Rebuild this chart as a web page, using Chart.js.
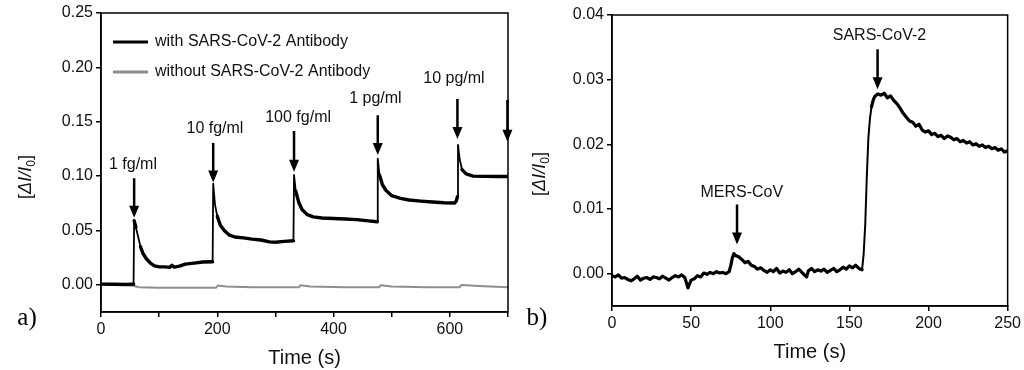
<!DOCTYPE html>
<html>
<head>
<meta charset="utf-8">
<script src="https://cdn.jsdelivr.net/npm/chart.js@4.4.1/dist/chart.umd.min.js"></script>
<style>
  body { margin:0; background:#fff; width:1024px; height:370px; overflow:hidden; position:relative; }
  .panel { position:absolute; top:0; height:370px; }
  #pa { left:0; width:520px; }
  #pb { left:520px; width:504px; }
</style>
</head>
<body>
<div class="panel" id="pa"><canvas id="chartA"></canvas></div>
<div class="panel" id="pb"><canvas id="chartB"></canvas></div>
<script>
// —––– Panel a) : respuesta con / sin anticuerpo ––––
const timeA   = [0,20,40,56,57,60,64,68,72,78,85,92,100,110,118,122,126,135,145,160,175,192,
                 193,196,200,205,212,220,230,245,260,275,290,300,315,331,
                 332,335,340,346,355,365,380,400,420,440,460,475,
                 476,479,484,490,500,515,530,550,570,590,608,611,613,
                 614,617,621,628,640,660,680,700];
const withAb  = [0.0006,0.0005,0.0004,0.0006,0.059,0.053,0.044,0.035,0.029,0.024,0.020,0.0175,0.0165,0.0165,0.016,0.018,0.0162,0.0172,0.019,0.020,0.021,0.0212,
                 0.093,0.074,0.063,0.055,0.050,0.046,0.044,0.0432,0.042,0.0412,0.0395,0.0392,0.040,0.0405,
                 0.101,0.086,0.076,0.069,0.0645,0.0625,0.0615,0.061,0.0605,0.060,0.0588,0.058,
                 0.116,0.101,0.092,0.087,0.082,0.0795,0.078,0.077,0.0762,0.0755,0.0752,0.077,0.081,
                 0.1287,0.115,0.106,0.102,0.100,0.0997,0.0996,0.0996];
const timeGray  = [0,30,55,65,100,150,198,201,215,260,340,343,360,420,478,481,500,560,617,620,650,700];
const withoutAb = [0.0002,-0.0003,-0.0008,-0.0022,-0.0028,-0.0028,-0.0027,-0.0006,-0.0015,-0.0022,-0.0023,-0.0004,-0.0015,-0.0022,-0.0022,-0.0005,-0.0015,-0.0022,-0.0022,-0.0001,-0.0010,-0.0022];
const xTicksA = [0,200,400,600];

// —––– Panel b) : selectividad ––––
const timeB = [0,2,4,6,8,10,12,14,16,18,20,22,24,26,28,30,32,34,36,38,40,42,44,46,48,49,50,52,54,56,58,60,62,64,66,68,70,72,74,
               75,76,77,78,80,82,84,86,88,90,92,94,96,98,100,102,104,106,108,110,112,114,116,118,120,122,123,124,126,128,130,
               132,134,136,138,140,142,144,146,148,150,152,154,156,158,159,160,161,162,163,164,165,166,168,170,172,174,176,178,
               180,182,184,186,188,190,192,194,196,198,200,202,204,206,208,210,212,214,216,218,220,222,224,226,228,230,232,234,
               236,238,240,242,244,246,248,250];
const signalB = [-0.0003,-0.0005,-0.0002,-0.0007,-0.0006,-0.0009,-0.0011,-0.0008,-0.0004,-0.0010,-0.0007,-0.0006,-0.0009,-0.0005,-0.0006,-0.0008,-0.0004,-0.0007,-0.0010,-0.0006,-0.0003,-0.0005,-0.0002,-0.0006,-0.0022,-0.0016,-0.0010,-0.0008,-0.0003,-0.0005,0.0001,-0.0001,0.0002,0.0000,0.0003,0.0001,0.0002,0.0000,0.0003,
                 0.0012,0.0024,0.0031,0.0028,0.0026,0.0022,0.0017,0.0019,0.0013,0.0011,0.0007,0.0009,0.0005,0.0002,0.0006,0.0003,0.0008,0.0001,0.0004,0.0002,0.0006,0.0000,0.0003,0.0007,0.0002,-0.0003,-0.0005,0.0004,0.0008,0.0003,0.0006,
                 0.0004,0.0007,0.0002,0.0005,0.0008,0.0003,0.0006,0.0010,0.0007,0.0012,0.0009,0.0013,0.0008,0.0006,0.0030,0.0075,0.0150,0.0210,0.0240,0.0258,0.0268,0.0274,0.0278,0.0276,0.0279,0.0272,0.0275,0.0268,
                 0.0263,0.0256,0.0248,0.0242,0.0236,0.0234,0.0228,0.0231,0.0222,0.0219,0.0221,0.0215,0.0217,0.0212,0.0214,0.0209,0.0213,0.0211,0.0207,0.0209,0.0204,0.0206,0.0202,0.0204,0.0199,0.0201,0.0197,0.0199,
                 0.0195,0.0197,0.0193,0.0195,0.0191,0.0193,0.0188,0.0190];

// flechas de inyección (coordenadas en unidades de datos)
const arrowsA = [
  { t:57,  top:0.098,  tip:0.0616, label:'1 fg/ml',   lt:55,  ly:0.111 },
  { t:193, top:0.1305, tip:0.094,  label:'10 fg/ml',  lt:196, ly:0.144 },
  { t:332, top:0.1415, tip:0.104,  label:'100 fg/ml', lt:339, ly:0.1535 },
  { t:476, top:0.156,  tip:0.1195, label:'1 pg/ml',   lt:472, ly:0.171 },
  { t:613, top:0.171,  tip:0.134,  label:'10 pg/ml',  lt:607, ly:0.190 },
  { t:699, top:0.170,  tip:0.1315, label:'' }
];
const arrowsB = [
  { t:79,    top:0.0107, tip:0.0045, label:'MERS-CoV',   lt:82,  ly:0.0126 },
  { t:167.8, top:0.0347, tip:0.0285, label:'SARS-CoV-2', lt:169, ly:0.0368 }
];

const FONT = '"Liberation Sans", Arial, sans-serif';
const INK = '#111';

const pts = (xs, ys) => xs.map((x, i) => ({ x, y: ys[i] }));

// tramos casi verticales (inyección) más finos que la señal ruidosa
const thinJumps = (thick, thin) => ctx => {
  const a = ctx.p0, b = ctx.p1;
  const dx = Math.abs(b.x - a.x), dy = Math.abs(b.y - a.y);
  return dy > 4 * dx && dy > 8 ? thin : thick;
};

function drawYTitle(ctx, cx, cy) {
  ctx.save();
  ctx.translate(cx, cy);
  ctx.rotate(-Math.PI / 2);
  ctx.fillStyle = INK;
  ctx.textBaseline = 'alphabetic';
  const parts = [
    { s:'[',    f:'18px ' + FONT, dy:0 },
    { s:'ΔI/I', f:'italic 18px ' + FONT, dy:0 },
    { s:'0',    f:'12px ' + FONT, dy:4 },
    { s:']',    f:'18px ' + FONT, dy:0 }
  ];
  let w = 0;
  parts.forEach(p => { ctx.font = p.f; p.w = ctx.measureText(p.s).width; w += p.w; });
  let x = -w / 2;
  parts.forEach(p => { ctx.font = p.f; ctx.textAlign = 'left'; ctx.fillText(p.s, x, 6 + p.dy); x += p.w; });
  ctx.restore();
}

function decor(cfg) {
  return {
    id: 'decor',
    afterDraw(chart) {
      const { ctx, chartArea: a, scales: { x, y } } = chart;
      ctx.save();
      // marco
      ctx.strokeStyle = '#000'; ctx.lineWidth = 1.5;
      ctx.strokeRect(a.left, a.top, a.right - a.left, a.bottom - a.top);
      // flechas
      ctx.fillStyle = '#000';
      cfg.arrows.forEach(ar => {
        const px = x.getPixelForValue(ar.t), y0 = y.getPixelForValue(ar.top), y1 = y.getPixelForValue(ar.tip);
        ctx.lineWidth = 2.5;
        ctx.beginPath(); ctx.moveTo(px, y0); ctx.lineTo(px, y1 - 8); ctx.stroke();
        ctx.beginPath(); ctx.moveTo(px - 5, y1 - 12); ctx.lineTo(px + 5, y1 - 12); ctx.lineTo(px, y1); ctx.closePath(); ctx.fill();
        if (ar.label) {
          ctx.font = '16px ' + FONT; ctx.fillStyle = INK;
          ctx.textAlign = 'center'; ctx.textBaseline = 'middle';
          ctx.fillText(ar.label, x.getPixelForValue(ar.lt), y.getPixelForValue(ar.ly));
          ctx.fillStyle = '#000';
        }
      });
      // leyenda
      if (cfg.legend) {
        chart.data.datasets.forEach((ds, i) => {
          const ly = a.top + 29 + i * 30;
          ctx.strokeStyle = ds.borderColor; ctx.lineWidth = 3;
          ctx.beginPath(); ctx.moveTo(a.left + 12, ly); ctx.lineTo(a.left + 47, ly); ctx.stroke();
          ctx.font = '16px ' + FONT; ctx.fillStyle = INK;
          ctx.textAlign = 'left'; ctx.textBaseline = 'middle';
          ctx.fillText(ds.label, a.left + 54, ly);
        });
      }
      // títulos
      ctx.font = '20px ' + FONT; ctx.fillStyle = INK;
      ctx.textAlign = 'center'; ctx.textBaseline = 'middle';
      ctx.fillText('Time (s)', (a.left + a.right) / 2, a.bottom + 46);
      drawYTitle(ctx, cfg.yTitleX, cfg.yTitleY);
      ctx.font = '25px "Liberation Serif", "Times New Roman", serif';
      ctx.fillStyle = '#000';
      ctx.fillText(cfg.tag, cfg.tagX, 318);
      ctx.restore();
    }
  };
}

function axis(min, max, step, fmt, extra) {
  return Object.assign({
    type: 'linear', min, max,
    border: { display: true, color: '#000', width: 1.5 },
    grid: { drawOnChartArea: false, color: '#000', lineWidth: 1.5, tickLength: 5 },
    ticks: { stepSize: step, color: INK, font: { family: FONT, size: 16 }, callback: fmt, maxRotation: 0, autoSkip: false, includeBounds: false },
    afterBuildTicks: s => { s.ticks = s.ticks.filter(t => t.value >= -1e-9); }
  }, extra);
}

function makeChart(id, datasets, o) {
  return new Chart(document.getElementById(id), {
    type: 'line',
    data: { datasets },
    options: {
      responsive: true, maintainAspectRatio: false, animation: false,
      layout: { padding: { top: o.padTop, right: o.padRight, left: 0, bottom: 0 } },
      plugins: { legend: { display: false }, tooltip: { enabled: false } },
      elements: { point: { radius: 0 }, line: { tension: 0, borderJoinStyle: 'round', borderCapStyle: 'round' } },
      scales: {
        x: axis(0, o.xMax, o.xStep, o.xFmt, { afterFit: s => { s.height = o.xH; } }),
        y: axis(o.yMin, o.yMax, o.yStep, v => v.toFixed(2), { afterFit: s => { s.width = o.yW; } })
      }
    },
    plugins: [decor(o.decor)]
  });
}

makeChart('chartA', [
  { label: 'with SARS-CoV-2 Antibody', data: pts(timeA, withAb), borderColor: '#000', borderWidth: 3.4,
    segment: { borderWidth: thinJumps(3.4, 1.8) } },
  { label: 'without SARS-CoV-2 Antibody', data: pts(timeGray, withoutAb), borderColor: '#8e8e8e', borderWidth: 2 }
], {
  padTop: 13, padRight: 12, xH: 58, yW: 101,
  xMax: 700, xStep: 100, xFmt: v => xTicksA.includes(v) ? String(v) : '',
  yMin: -0.025, yMax: 0.25, yStep: 0.05,
  decor: { arrows: arrowsA, legend: true, tag: 'a)', tagX: 27, yTitleX: 25, yTitleY: 177 }
});

makeChart('chartB', [
  { label: 'signal', data: pts(timeB, signalB), borderColor: '#000', borderWidth: 3.2,
    segment: { borderWidth: thinJumps(3.2, 2) } }
], {
  padTop: 15, padRight: 15, xH: 64, yW: 92,
  xMax: 250, xStep: 50, xFmt: v => String(v),
  yMin: -0.005, yMax: 0.04, yStep: 0.01,
  decor: { arrows: arrowsB, legend: false, tag: 'b)', tagX: 17, yTitleX: 19, yTitleY: 174 }
});
</script>
</body>
</html>
